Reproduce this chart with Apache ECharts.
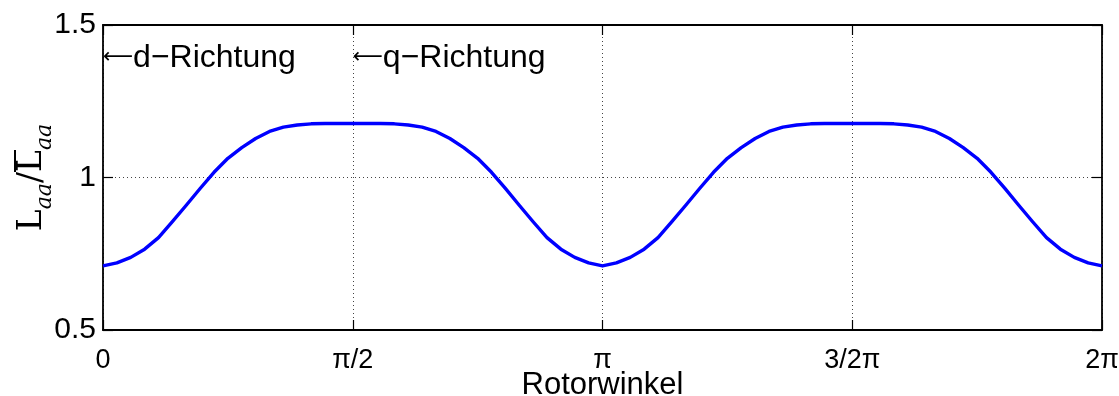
<!DOCTYPE html>
<html>
<head>
<meta charset="utf-8">
<script src="https://cdn.jsdelivr.net/npm/echarts@6/dist/echarts.min.js"></script>
<style>html,body{margin:0;padding:0;background:#fff}#c{width:1119px;height:396px}</style>
</head>
<body>
<div id="c"></div>
<script>
// rotor angle in degrees (0 .. 360 = 0 .. 2π)
const angles = [0,5,10,15,20,25,30,35,40,45,50,55,60,65,70,75,80,85,90,
  95,100,105,110,115,120,125,130,135,140,145,150,155,160,165,170,175,180,
  185,190,195,200,205,210,215,220,225,230,235,240,245,250,255,260,265,270,
  275,280,285,290,295,300,305,310,315,320,325,330,335,340,345,350,355,360];
// L_aa / mean(L_aa)
const ratio = [0.710,0.720,0.738,0.765,0.803,0.855,0.909,0.964,1.017,1.063,1.098,1.128,1.151,1.165,1.172,1.176,1.177,1.177,1.177,
  1.177,1.177,1.176,1.172,1.165,1.151,1.128,1.098,1.063,1.017,0.964,0.909,0.855,0.803,0.765,0.738,0.720,0.710,
  0.720,0.738,0.765,0.803,0.855,0.909,0.964,1.017,1.063,1.098,1.128,1.151,1.165,1.172,1.176,1.177,1.177,1.177,
  1.177,1.177,1.176,1.172,1.165,1.151,1.128,1.098,1.063,1.017,0.964,0.909,0.855,0.803,0.765,0.738,0.720,0.710];
const xTickValues = [0, 90, 180, 270, 360];
const xTickLabels = ['0', 'π/2', 'π', '3/2π', '2π'];
const yTickValues = [0.5, 1, 1.5];
const annotations = [
  {angle: 0, value: 1.392, text: 'd−Richtung'},
  {angle: 90, value: 1.392, text: 'q−Richtung'}
];

const font = '"Liberation Sans", Arial, Helvetica, sans-serif';
const serif = '"DejaVu Serif", "Liberation Serif", serif';
const chart = echarts.init(document.getElementById('c'), null, {renderer: 'canvas'});

const xLabelMap = {};
xTickValues.forEach((v, i) => xLabelMap[v] = xTickLabels[i]);

const gridLine = {show: true, lineStyle: {color: '#444', type: [1, 3], width: 1}};
const tickStyle = {show: true, inside: true, length: 10, lineStyle: {color: '#000', width: 1.2}};
const lineStyleBox = {show: true, onZero: false, lineStyle: {color: '#000', width: 1.8}};

// y-axis label: first line carries only the bar over the second L
const yName = '{hm|L}{hs|aa}{hm|/}{bar|L}{hs|aa}\n{m|L}{s|aa}{m|/}{m|L}{s|aa}';

chart.setOption({
  animation: false,
  backgroundColor: '#fff',
  grid: {left: 103, right: 17, top: 25, bottom: 66, containLabel: false, outerBoundsMode: 'none'},
  xAxis: [{
    type: 'value', min: 0, max: 360, interval: 90, position: 'bottom',
    axisLine: lineStyleBox, axisTick: tickStyle,
    splitLine: gridLine,
    axisLabel: {show: true, margin: 17, color: '#000', fontFamily: font, fontSize: 27,
      formatter: v => xLabelMap[v] !== undefined ? xLabelMap[v] : ''},
    name: 'Rotorwinkel', nameLocation: 'middle', nameGap: 40, nameMoveOverlap: false,
    nameTextStyle: {color: '#000', fontFamily: font, fontSize: 31}
  }, {
    type: 'value', min: 0, max: 360, interval: 90, position: 'top',
    axisLine: lineStyleBox, axisTick: tickStyle,
    splitLine: {show: false}, axisLabel: {show: false}
  }],
  yAxis: [{
    type: 'value', min: 0.5, max: 1.5, interval: 0.5, position: 'left',
    axisLine: lineStyleBox, axisTick: tickStyle,
    splitLine: gridLine,
    axisLabel: {show: true, margin: 7, color: '#000', fontFamily: font, fontSize: 30,
      formatter: v => yTickValues.indexOf(v) >= 0 ? String(v) : ''},
    name: yName, nameLocation: 'middle', nameGap: 47, nameRotate: 90, nameMoveOverlap: false,
    nameTextStyle: {
      color: '#000',
      rich: {
        m: {fontFamily: serif, fontSize: 33, color: '#000', lineHeight: 40, verticalAlign: 'top'},
        s: {fontFamily: serif, fontSize: 22, fontStyle: 'italic', color: '#000', lineHeight: 40, verticalAlign: 'bottom'},
        hm: {fontFamily: serif, fontSize: 33, color: 'transparent', lineHeight: 2, height: 2},
        hs: {fontFamily: serif, fontSize: 22, fontStyle: 'italic', color: 'transparent', lineHeight: 2, height: 2},
        bar: {fontFamily: serif, fontSize: 33, color: 'transparent', backgroundColor: '#000', lineHeight: 2, height: 2}
      }
    }
  }, {
    type: 'value', min: 0.5, max: 1.5, interval: 0.5, position: 'right',
    axisLine: lineStyleBox, axisTick: tickStyle,
    splitLine: {show: false}, axisLabel: {show: false}
  }],
  series: [{
    type: 'line',
    data: angles.map((a, i) => [a, ratio[i]]),
    smooth: false,
    showSymbol: false,
    lineStyle: {color: '#0000ff', width: 3.4, join: 'round'},
    z: 3
  }, {
    type: 'scatter',
    data: annotations.map(a => ({value: [a.angle, a.value], text: a.text})),
    symbolSize: 0,
    itemStyle: {opacity: 1},
    label: {show: true, position: 'right', distance: 0, color: '#000', opacity: 1, textBorderWidth: 0,
      formatter: p => '{a|⟵}{t|' + p.data.text + '}',
      rich: {
        a: {fontFamily: '"DejaVu Sans", sans-serif', fontSize: 21, color: '#000', verticalAlign: 'middle'},
        t: {fontFamily: font, fontSize: 32, color: '#000', verticalAlign: 'middle'}
      }},
    z: 4
  }]
});
</script>
</body>
</html>
